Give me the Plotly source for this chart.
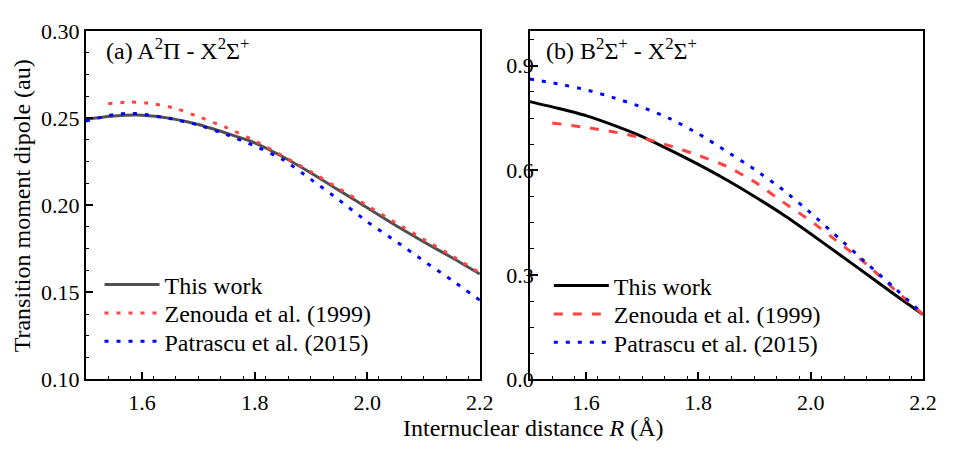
import plotly.graph_objects as go

# ---------------- data ----------------
# (a) A2Pi - X2Sigma+  transition dipole moment (au) vs R (Angstrom)
r_a_this = [1.50, 1.55, 1.60, 1.65, 1.70, 1.75, 1.80, 1.85, 1.90, 1.95, 2.00, 2.05, 2.10, 2.15, 2.20]
tdm_a_this = [0.2494, 0.2512, 0.2516, 0.2498, 0.2463, 0.2413, 0.2358, 0.2278, 0.2185, 0.2085,
              0.1985, 0.1885, 0.1790, 0.1700, 0.1605]

r_a_zen = [1.54, 1.58, 1.62, 1.66, 1.70, 1.75, 1.80, 1.85, 1.90, 1.95, 2.00, 2.05, 2.10, 2.15, 2.20]
tdm_a_zen = [0.2582, 0.2592, 0.2582, 0.2555, 0.2508, 0.2445, 0.2370, 0.2282, 0.2192, 0.2095,
             0.1998, 0.1900, 0.1805, 0.1710, 0.1612]

r_a_pat = [1.50, 1.55, 1.575, 1.60, 1.65, 1.70, 1.75, 1.80, 1.85, 1.90, 1.95, 2.00, 2.05, 2.10, 2.15, 2.20]
tdm_a_pat = [0.2483, 0.2520, 0.2527, 0.2523, 0.2497, 0.2460, 0.2405, 0.2340, 0.2262, 0.2148,
             0.2030, 0.1905, 0.1795, 0.1681, 0.1570, 0.1455]

# (b) B2Sigma+ - X2Sigma+
r_b_this = [1.50, 1.55, 1.60, 1.65, 1.70, 1.75, 1.80, 1.85, 1.90, 1.95, 2.00, 2.05, 2.10, 2.15, 2.20]
tdm_b_this = [0.797, 0.778, 0.757, 0.729, 0.697, 0.658, 0.617, 0.573, 0.525, 0.474,
              0.418, 0.360, 0.302, 0.243, 0.186]

r_b_zen = [1.54, 1.60, 1.65, 1.70, 1.75, 1.80, 1.85, 1.90, 1.95, 2.00, 2.05, 2.10, 2.15, 2.20]
tdm_b_zen = [0.736, 0.723, 0.710, 0.693, 0.670, 0.643, 0.612, 0.567, 0.510, 0.455,
             0.393, 0.330, 0.257, 0.187]

r_b_pat = [1.50, 1.55, 1.60, 1.65, 1.70, 1.75, 1.80, 1.85, 1.90, 1.95, 2.00, 2.05, 2.10, 2.15, 2.20]
tdm_b_pat = [0.862, 0.848, 0.831, 0.808, 0.781, 0.748, 0.705, 0.655, 0.603, 0.545,
             0.478, 0.406, 0.333, 0.262, 0.188]

series_names = ["This work", "Zenouda et al. (1999)", "Patrascu et al. (2015)"]
x_ticks = [1.6, 1.8, 2.0, 2.2]
y_ticks_a = [0.10, 0.15, 0.20, 0.25, 0.30]
y_ticks_b = [0.0, 0.3, 0.6, 0.9]

# ---------------- styling ----------------
FONT = "Liberation Serif"
W, H = 954, 452
GRAY, BLACK, RED, BLUE = "#505050", "#000000", "#FF4242", "#0000FF"
DOT = "4px,8px"
DASH = "9px,10px"

dom_a = [87 / W, 487 / W]
dom_b = [537.7 / W, 936.7 / W]
dom_y = [1 - 389 / H, 1 - 20 / H]

# one single-entry legend per line, so each row can be placed on its own
legend_rows = {
    "legend": (101, 289), "legend2": (101, 319), "legend3": (101, 349),
    "legend4": (557, 290), "legend5": (557, 320), "legend6": (557, 350),
}

fig = go.Figure()

def add(x, y, name, color, dash, xa, ya, legend):
    fig.add_trace(go.Scatter(
        x=x, y=y, mode="lines", name=name, xaxis=xa, yaxis=ya, legend=legend,
        line=dict(color=color, width=3, dash=dash, shape="spline", smoothing=0.6),
    ))

add(r_a_this, tdm_a_this, series_names[0], GRAY, "solid", "x", "y", "legend")
add(r_a_zen, tdm_a_zen, series_names[1], RED, DOT, "x", "y", "legend2")
add(r_a_pat, tdm_a_pat, series_names[2], BLUE, DOT, "x", "y", "legend3")
add(r_b_this, tdm_b_this, series_names[0], BLACK, "solid", "x2", "y2", "legend4")
add(r_b_zen, tdm_b_zen, series_names[1], RED, DASH, "x2", "y2", "legend5")
add(r_b_pat, tdm_b_pat, series_names[2], BLUE, DOT, "x2", "y2", "legend6")

tickfont = dict(family=FONT, size=22, color="black")

def xaxis(domain, anchor):
    return dict(domain=domain, anchor=anchor, range=[1.5, 2.2], tickvals=x_ticks,
                ticktext=[f"{v:.1f}" for v in x_ticks],
                ticks="inside", ticklen=8, tickwidth=1.5, tickcolor="black",
                showline=True, linewidth=1.5, linecolor="black", mirror=True,
                showgrid=False, zeroline=False, tickfont=tickfont, ticklabelstandoff=2,
                minor=dict(dtick=0.04, tick0=1.5, ticks="inside", ticklen=4,
                           tickwidth=1.2, tickcolor="black", showgrid=False))

def yaxis(domain, anchor, rng, vals, fmt, minor, standoff):
    return dict(domain=domain, anchor=anchor, range=rng, tickvals=vals,
                ticktext=[fmt.format(v) for v in vals],
                ticks="inside", ticklen=8, tickwidth=1.5, tickcolor="black",
                showline=True, linewidth=1.5, linecolor="black", mirror=True,
                showgrid=False, zeroline=False, tickfont=tickfont,
                ticklabelstandoff=standoff,
                minor=dict(dtick=minor, tick0=0, ticks="inside", ticklen=4,
                           tickwidth=1.2, tickcolor="black", showgrid=False))

def mirror_x(over, anchor, domain):
    return dict(overlaying=over, anchor=anchor, side="top", domain=domain,
                range=[1.5, 2.2], tickvals=x_ticks, showticklabels=False,
                ticks="inside", ticklen=8, tickwidth=1.5, tickcolor="black",
                showline=False, showgrid=False, zeroline=False)

def mirror_y(over, anchor, domain, rng, vals):
    return dict(overlaying=over, anchor=anchor, side="right", domain=domain,
                range=rng, tickvals=vals, showticklabels=False,
                ticks="inside", ticklen=8, tickwidth=1.5, tickcolor="black",
                showline=False, showgrid=False, zeroline=False)

legend_common = dict(font=dict(family=FONT, size=24, color="black"),
                     bgcolor="rgba(0,0,0,0)", borderwidth=0, itemwidth=55,
                     xanchor="left", yanchor="middle")

legends = {key: dict(x=px / W, y=1 - py / H, **legend_common)
           for key, (px, py) in legend_rows.items()}

fig.update_layout(
    width=W, height=H,
    margin=dict(l=0, r=0, t=0, b=0),
    paper_bgcolor="white", plot_bgcolor="white",
    font=dict(family=FONT, color="black"),
    xaxis=xaxis(dom_a, "y"),
    yaxis=yaxis(dom_y, "x", [0.10, 0.30], y_ticks_a, "{:.2f}", 0.0125, 0),
    xaxis2=xaxis(dom_b, "y2"),
    yaxis2=yaxis(dom_y, "x2", [0.0, 1.0], y_ticks_b, "{:.1f}", 0.075, -10),
    xaxis3=mirror_x("x", "y", dom_a),
    yaxis3=mirror_y("y", "x", dom_y, [0.10, 0.30], y_ticks_a),
    xaxis4=mirror_x("x2", "y2", dom_b),
    yaxis4=mirror_y("y2", "x2", dom_y, [0.0, 1.0], y_ticks_b),
    showlegend=True,
    **legends,
)

ann_font = dict(family=FONT, size=24, color="black")
fig.add_annotation(text="(a) A<sup>2</sup>\u03a0 - X<sup>2</sup>\u03a3<sup>+</sup>",
                   xref="paper", yref="paper", x=106 / W, y=1 - 39 / H,
                   xanchor="left", yanchor="middle", showarrow=False, font=ann_font)
fig.add_annotation(text="(b) B<sup>2</sup>\u03a3<sup>+</sup> - X<sup>2</sup>\u03a3<sup>+</sup>",
                   xref="paper", yref="paper", x=552 / W, y=1 - 39 / H,
                   xanchor="left", yanchor="middle", showarrow=False, font=ann_font)
fig.add_annotation(text="Transition moment dipole (au)", textangle=-90,
                   xref="paper", yref="paper", x=22 / W, y=1 - 205 / H,
                   xanchor="center", yanchor="middle", showarrow=False, font=ann_font)
fig.add_annotation(text="Internuclear distance <i>R</i> (\u00c5)",
                   xref="paper", yref="paper", x=541 / W, y=1 - 440 / H,
                   xanchor="center", yanchor="middle", showarrow=False, font=ann_font)

fig.write_html("out.html")
